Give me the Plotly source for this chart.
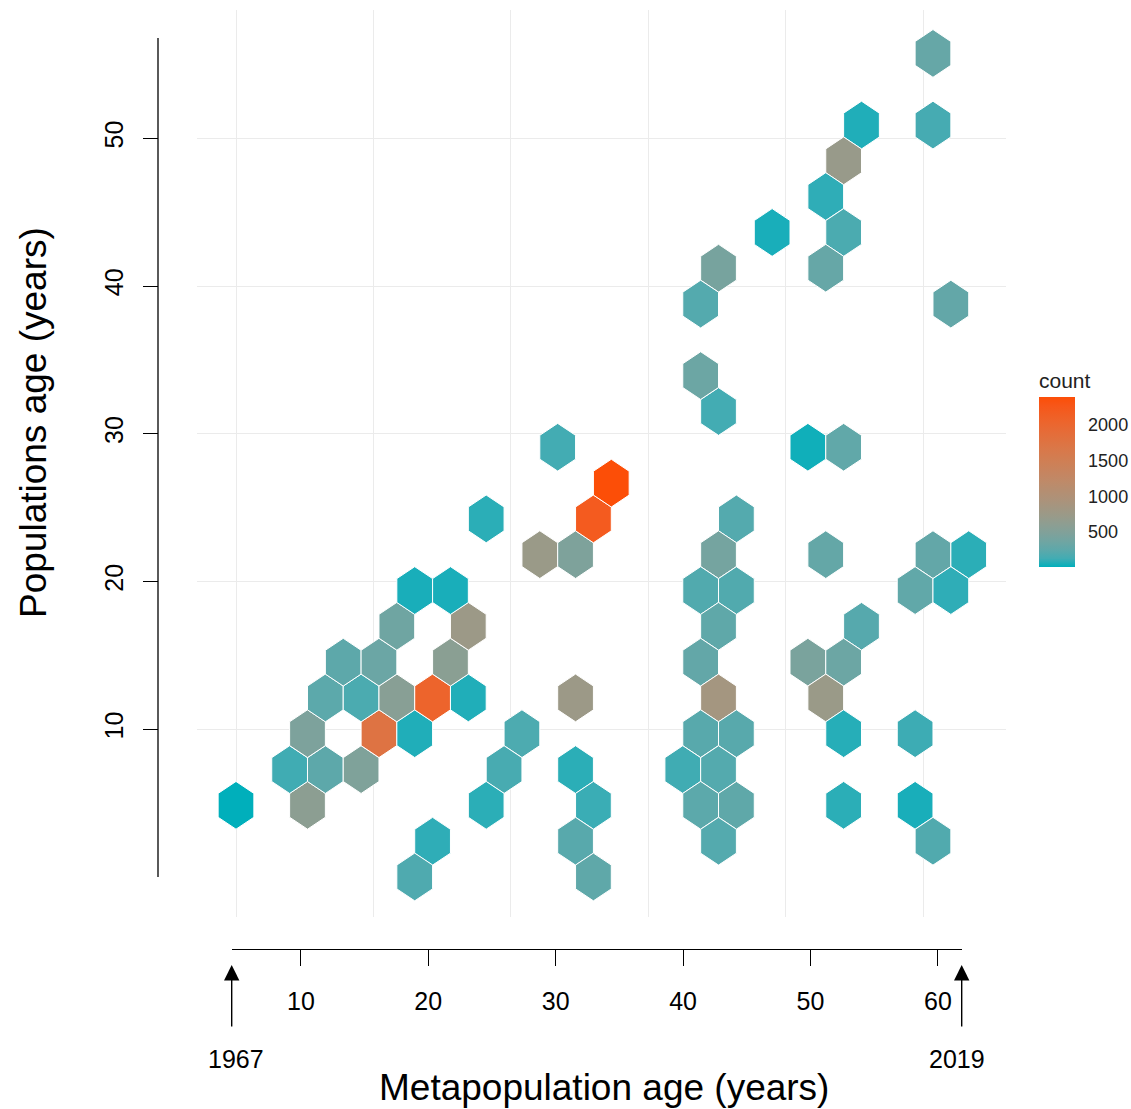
import plotly.graph_objects as go

# ---------------- data (hexbin centres and counts) ----------------
hex_x = [0.0, 5.2, 3.9, 6.5, 9.1, 5.2, 10.4, 13.0, 6.5, 9.1, 11.7, 14.3, 16.9,
         7.8, 10.4, 15.6, 11.7, 16.9, 13.0, 15.6, 18.2, 22.1, 24.7, 23.4, 26.0,
         27.3, 24.7, 20.8, 19.5, 18.2, 24.7, 26.0, 24.7, 26.0, 14.3, 13.0,
         35.1, 41.6, 44.2, 36.4, 35.1, 33.8, 36.4, 35.1, 33.8, 35.1, 33.8, 36.4,
         32.5, 35.1, 33.8, 36.4, 35.1,
         42.9, 50.7, 53.3, 49.4, 52.0, 45.5, 41.6, 44.2, 42.9, 44.2, 49.4, 44.2,
         49.4, 50.7,
         50.7, 45.5, 50.7, 44.2, 42.9, 44.2, 42.9, 39.0, 35.1, 33.8, 52.0, 33.8]
hex_y = [4.85, 4.85, 7.27, 7.27, 7.27, 9.70, 9.70, 9.70, 12.12, 12.12, 12.12, 12.12, 12.12,
         14.54, 14.54, 14.54, 16.97, 16.97, 19.39, 19.39, 24.24, 21.82, 21.82, 29.09, 24.24,
         26.66, 12.12, 9.70, 7.27, 4.85, 7.27, 4.85, 2.42, 0.0, 2.42, 0.0,
         31.51, 29.09, 29.09, 24.24, 21.82, 19.39, 19.39, 16.97, 14.54, 12.12, 9.70, 9.70,
         7.27, 7.27, 4.85, 4.85, 2.42,
         21.82, 21.82, 21.82, 19.39, 19.39, 16.97, 14.54, 14.54, 12.12, 9.70, 9.70, 4.85,
         4.85, 2.42,
         55.75, 50.90, 50.90, 48.48, 46.06, 43.63, 41.21, 43.63, 41.21, 38.78, 38.78, 33.94]
hex_count = [9, 600, 120, 250, 480, 460, 1750, 40, 240, 160, 560, 2050, 40,
             250, 330, 580, 360, 760, 30, 30, 60, 740, 470, 130, 2200,
             2390, 760, 170, 150, 60, 60, 100, 220, 260, 70, 180,
             130, 20, 270, 200, 400, 190, 190, 260, 280, 860, 220, 220,
             120, 200, 240, 260, 200,
             290, 280, 60, 270, 70, 210, 440, 340, 740, 50, 110, 60,
             30, 190,
             300, 40, 140, 720, 70, 160, 300, 30, 420, 200, 280, 340]

y_ticks = [10, 20, 30, 40, 50]
age_ticks = [10, 20, 30, 40, 50, 60]
year_labels = ["1967", "2019"]
count_ticks = [500, 1000, 1500, 2000]

# ---------------- helpers ----------------
W, H = 1131, 1109
BIN_W, BIN_H = 2.6, 2.424          # hex bin width / row spacing (data units)
LOW, HIGH = "#00AFBB", "#FC4E07"


def px_x(p):
    return p / W


def px_y(p):
    return 1 - p / H


def _lin(c):
    return c / 12.92 if c <= 0.04045 else ((c + 0.055) / 1.055) ** 2.4


def _gam(c):
    c = 12.92 * c if c <= 0.0031308 else 1.055 * c ** (1 / 2.4) - 0.055
    return min(1.0, max(0.0, c))


def hex_to_lab(h):
    r, g, b = [_lin(int(h[i:i + 2], 16) / 255) for i in (1, 3, 5)]
    X = (0.4124 * r + 0.3576 * g + 0.1805 * b) / 0.95047
    Y = (0.2126 * r + 0.7152 * g + 0.0722 * b)
    Z = (0.0193 * r + 0.1192 * g + 0.9505 * b) / 1.08883
    f = lambda t: t ** (1 / 3) if t > 0.008856 else 7.787 * t + 16 / 116
    fx, fy, fz = f(X), f(Y), f(Z)
    return 116 * fy - 16, 500 * (fx - fy), 200 * (fy - fz)


def lab_to_rgb(L, a, b):
    fy = (L + 16) / 116
    fx = fy + a / 500
    fz = fy - b / 200
    finv = lambda t: t ** 3 if t ** 3 > 0.008856 else (t - 16 / 116) / 7.787
    X, Y, Z = finv(fx) * 0.95047, finv(fy), finv(fz) * 1.08883
    r = 3.2406 * X - 1.5372 * Y - 0.4986 * Z
    g = -0.9689 * X + 1.8758 * Y + 0.0415 * Z
    bb = 0.0557 * X - 0.2040 * Y + 1.0570 * Z
    return "rgb(%d,%d,%d)" % tuple(round(_gam(c) * 255) for c in (r, g, bb))


LAB_LO, LAB_HI = hex_to_lab(LOW), hex_to_lab(HIGH)


def grad(t):
    return lab_to_rgb(*[lo + (hi - lo) * t for lo, hi in zip(LAB_LO, LAB_HI)])


cmin, cmax = min(hex_count), max(hex_count)
colorscale = [[i / 20, grad(i / 20)] for i in range(21)]

fig = go.Figure()

R = BIN_H / 1.5
for cx, cy, c in zip(hex_x, hex_y, hex_count):
    hw = BIN_W / 2
    xs = [cx, cx + hw, cx + hw, cx, cx - hw, cx - hw, cx]
    ys = [cy + R, cy + R / 2, cy - R / 2, cy - R, cy - R / 2, cy + R / 2, cy + R]
    fig.add_trace(go.Scatter(
        x=xs, y=ys, mode="lines", fill="toself",
        fillcolor=grad((c - cmin) / (cmax - cmin)),
        line=dict(color="white", width=1),
        hoverinfo="skip", showlegend=False))

# colourbar carrier (invisible markers)
fig.add_trace(go.Scatter(
    x=hex_x, y=hex_y, mode="markers", hoverinfo="skip", showlegend=False,
    marker=dict(size=1, opacity=0, color=hex_count, colorscale=colorscale,
                cmin=cmin, cmax=cmax, showscale=True,
                colorbar=dict(
                    title=dict(text="count", side="top",
                               font=dict(size=21, color="#222222")),
                    x=px_x(1039), xanchor="left", y=px_y(468), yanchor="middle",
                    len=198, lenmode="pixels", thickness=36,
                    outlinewidth=0, xpad=0, ypad=0,
                    tickvals=count_ticks, ticks="outside", ticklen=10,
                    tickcolor="rgba(255,255,255,0)", tickwidth=1.5,
                    tickfont=dict(size=18, color="#222222")))))

# carrier for the bottom "metapopulation age" axis
fig.add_trace(go.Scatter(x=[], y=[], xaxis="x2", yaxis="y3",
                         hoverinfo="skip", showlegend=False))

grid = "#EBEBEB"
fig.update_layout(
    width=W, height=H,
    margin=dict(l=0, r=0, t=0, b=0),
    paper_bgcolor="white", plot_bgcolor="white",
    font=dict(family="Liberation Sans, Arial, sans-serif", color="black"),
    xaxis=dict(domain=[px_x(197), px_x(1005.7)], range=[-2.837, 55.99],
               showticklabels=False, ticks="", showline=False, zeroline=False,
               tick0=0, dtick=10, showgrid=True, gridcolor=grid, gridwidth=1.2),
    yaxis=dict(domain=[px_y(917), px_y(10)], range=[-2.71, 58.69],
               anchor="free", position=px_x(158),
               tickvals=y_ticks, ticks="outside", ticklen=15, tickwidth=1.3,
               tickcolor="black", tickangle=-90, ticklabelstandoff=10,
               tickfont=dict(size=25, color="black"),
               showline=False, zeroline=False,
               showgrid=True, gridcolor=grid, gridwidth=1.2),
    xaxis2=dict(domain=[px_x(231.7), px_x(961.7)], range=[4.57, 61.87],
                anchor="free", position=px_y(949.3),
                tickvals=age_ticks, ticks="outside", ticklen=15.7, tickwidth=1.3,
                tickcolor="black", showline=True, linecolor="black", linewidth=1.3,
                ticklabelstandoff=14,
                showgrid=False, zeroline=False,
                tickfont=dict(size=25, color="black")),
    yaxis3=dict(domain=[0, 0.02], visible=False, showgrid=False),
)

# y-axis line (drawn from 0 to the top of the data)
fig.add_shape(type="line", xref="paper", yref="y", x0=px_x(158), x1=px_x(158),
              y0=0, y1=max(hex_y) + 1.05, line=dict(color="black", width=1.3))

# arrows + year labels at the ends of the bottom axis
for xd, lab, shift in [(0, year_labels[0], 4), (1, year_labels[1], -5)]:
    fig.add_annotation(x=xd, xref="x2 domain", y=px_y(965), yref="paper",
                       ax=0, ay=63, text="", showarrow=True, arrowhead=2,
                       arrowsize=2.2, arrowwidth=1.4, arrowcolor="black")
    fig.add_annotation(x=xd, xref="x2 domain", y=px_y(1059), yref="paper",
                       xanchor="center", yanchor="middle",
                       text=lab, showarrow=False, xshift=shift,
                       font=dict(size=25, color="black"))

# axis titles
fig.add_annotation(x=px_x(604), y=px_y(1087), xref="paper", yref="paper",
                   xanchor="center", yanchor="middle",
                   text="Metapopulation age (years)", showarrow=False,
                   font=dict(size=37, color="black"))
fig.add_annotation(x=px_x(33), y=px_y(423), xref="paper", yref="paper",
                   xanchor="center", yanchor="middle",
                   text="Populations age (years)", showarrow=False, textangle=-90,
                   font=dict(size=37, color="black"))

fig.write_html("out.html")
